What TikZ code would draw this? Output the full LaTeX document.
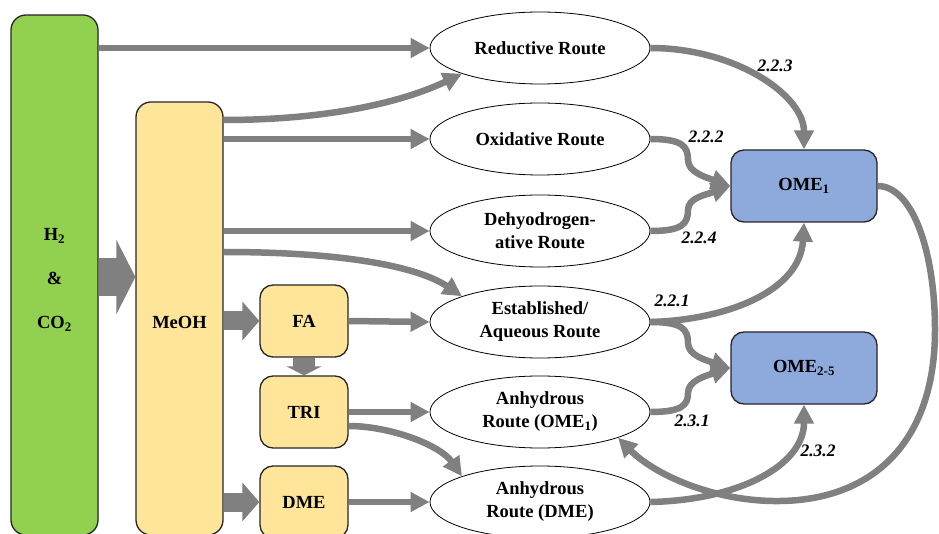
\documentclass[tikz,border=0pt]{standalone}
\usepackage{fontspec}
\setmainfont{Liberation Serif}
\usetikzlibrary{arrows.meta,shapes.geometric}
\definecolor{gfill}{HTML}{92D050}
\definecolor{yfill}{HTML}{FFE599}
\definecolor{bfill}{HTML}{8EA9DB}
\definecolor{agray}{HTML}{808080}
\definecolor{edgec}{HTML}{262626}
\begin{document}
\begin{tikzpicture}[x=1pt,y=-1pt,
  box/.style={draw=edgec, line width=1.3pt, rounded corners=13pt, inner sep=0pt},
  txt/.style={font=\fontsize{18.5}{23}\selectfont\bfseries, align=center, inner sep=0pt},
  route/.style={draw=black, line width=0.8pt, ellipse, minimum width=220pt, minimum height=72pt, inner sep=0pt, fill=white, font=\fontsize{18.5}{23}\selectfont\bfseries, align=center},
  flow/.style={draw=agray, line width=6.5pt, -{Triangle[length=19pt,width=19pt]}},
  lbl/.style={font=\fontsize{17.5}{20}\selectfont\bfseries\itshape, inner sep=0pt}
]
\useasboundingbox (0,0) rectangle (939,534);
\clip (0,0) rectangle (939,534);

% source boxes
\node[box, fill=gfill, minimum width=87pt, minimum height=520pt, rounded corners=15pt] (green) at (54.5,275) {};
\node[txt] (gtext) at (54.5,280) {H\textsubscript{2}\\[21pt]\&\\[21pt]CO\textsubscript{2}};
\node[box, fill=yfill, minimum width=87pt, minimum height=433pt, rounded corners=15pt] (meoh) at (179.5,318.5) {};
\node[txt] (meohtext) at (179.5,322) {MeOH};

\node[box, fill=yfill, minimum width=88pt, minimum height=72pt, txt] (fa) at (304,321) {FA};
\node[box, fill=yfill, minimum width=88pt, minimum height=72pt, txt] (tri) at (304,412) {TRI};
\node[box, fill=yfill, minimum width=88pt, minimum height=72pt, txt] (dme) at (304,502) {DME};

% routes
\node[route] (red) at (540,48) {Reductive Route};
\node[route] (ox) at (540,139) {Oxidative Route};
\node[route] (dh) at (540,231) {Dehyodrogen-\\ative Route};
\node[route] (est) at (540,322) {Established/\\Aqueous Route};
\node[route] (aome) at (540,412) {Anhydrous\\Route (OME\textsubscript{1})};
\node[route] (adme) at (540,502) {Anhydrous\\Route (DME)};

% products
\node[box, fill=bfill, minimum width=146pt, minimum height=72pt, txt] (ome1) at (804,186) {OME\textsubscript{1}};
\node[box, fill=bfill, minimum width=146pt, minimum height=72pt, txt] (ome25) at (804,368) {OME\textsubscript{2-5}};

% block arrows
\coordinate (gm) at (0,277);
\draw[agray, line width=38pt, -{Triangle[length=19pt,width=74pt]}] (green.east |- gm) -- (meoh.west |- gm);
\draw[agray, line width=19pt, -{Triangle[length=17pt,width=38pt]}] (meoh.east |- fa.west) -- (fa.west);
\draw[agray, line width=19pt, -{Triangle[length=17pt,width=38pt]}] (meoh.east |- dme.west) -- (dme.west);
\draw[agray, line width=22pt, -{Triangle[length=9pt,width=35pt]}] (fa.south) -- (tri.north);

% feed arrows
\coordinate (mr) at (0,120);
\coordinate (me) at (0,252);
\coordinate (te) at (0,426);
\draw[flow] (green.east |- red.west) -- (red.west);
\draw[flow] (meoh.east |- mr) .. controls (350,120) and (420,94) .. (red.south west);
\draw[flow] (meoh.east |- ox.west) -- (ox.west);
\draw[flow] (meoh.east |- dh.west) -- (dh.west);
\draw[flow] (meoh.east |- me) .. controls (350,252) and (420,268) .. (est.north west);
\draw[flow] (fa.east) -- (est.west);
\draw[flow] (tri.east) -- (aome.west);
\draw[flow] (tri.east |- te) .. controls (390,426) and (440,445) .. (adme.north west);
\draw[flow] (dme.east) -- (adme.west);

% product arrows
\draw[flow] (red.east) .. controls (735,48) and (804,95) .. (ome1.north);
\draw[flow] (ox.east) .. controls (682,139) and (688,146) .. (688,160) .. controls (688,172) and (705,177) .. (ome1.west);
\draw[flow] (dh.east) .. controls (682,231) and (688,224) .. (688,210) .. controls (688,198) and (705,195) .. (ome1.west);
\draw[flow] (est.east) .. controls (725,320) and (800,292) .. (ome1.south);
\draw[flow] (est.east) .. controls (682,322) and (688,329) .. (688,343) .. controls (688,355) and (705,360) .. (ome25.west);
\draw[flow] (aome.east) .. controls (682,412) and (688,405) .. (688,393) .. controls (688,381) and (705,376) .. (ome25.west);
\draw[flow] (adme.east) .. controls (740,500) and (804,465) .. (ome25.south);
\coordinate (lp1) at (935,330);
\coordinate (lp2) at (780,501);
\draw[flow] (ome1.east) .. controls (912,186) and (935,250) .. (lp1) .. controls (935,445) and (870,500) .. (lp2) .. controls (715,502) and (655,475) .. (aome.south east);

% labels
\node[lbl] (l223) at (775,66) {2.2.3};
\node[lbl] (l222) at (706,137) {2.2.2};
\node[lbl] (l224) at (699,238) {2.2.4};
\node[lbl] (l221) at (672,301) {2.2.1};
\node[lbl] (l231) at (692,421) {2.3.1};
\node[lbl] (l232) at (818,451) {2.3.2};
\end{tikzpicture}
\end{document}
